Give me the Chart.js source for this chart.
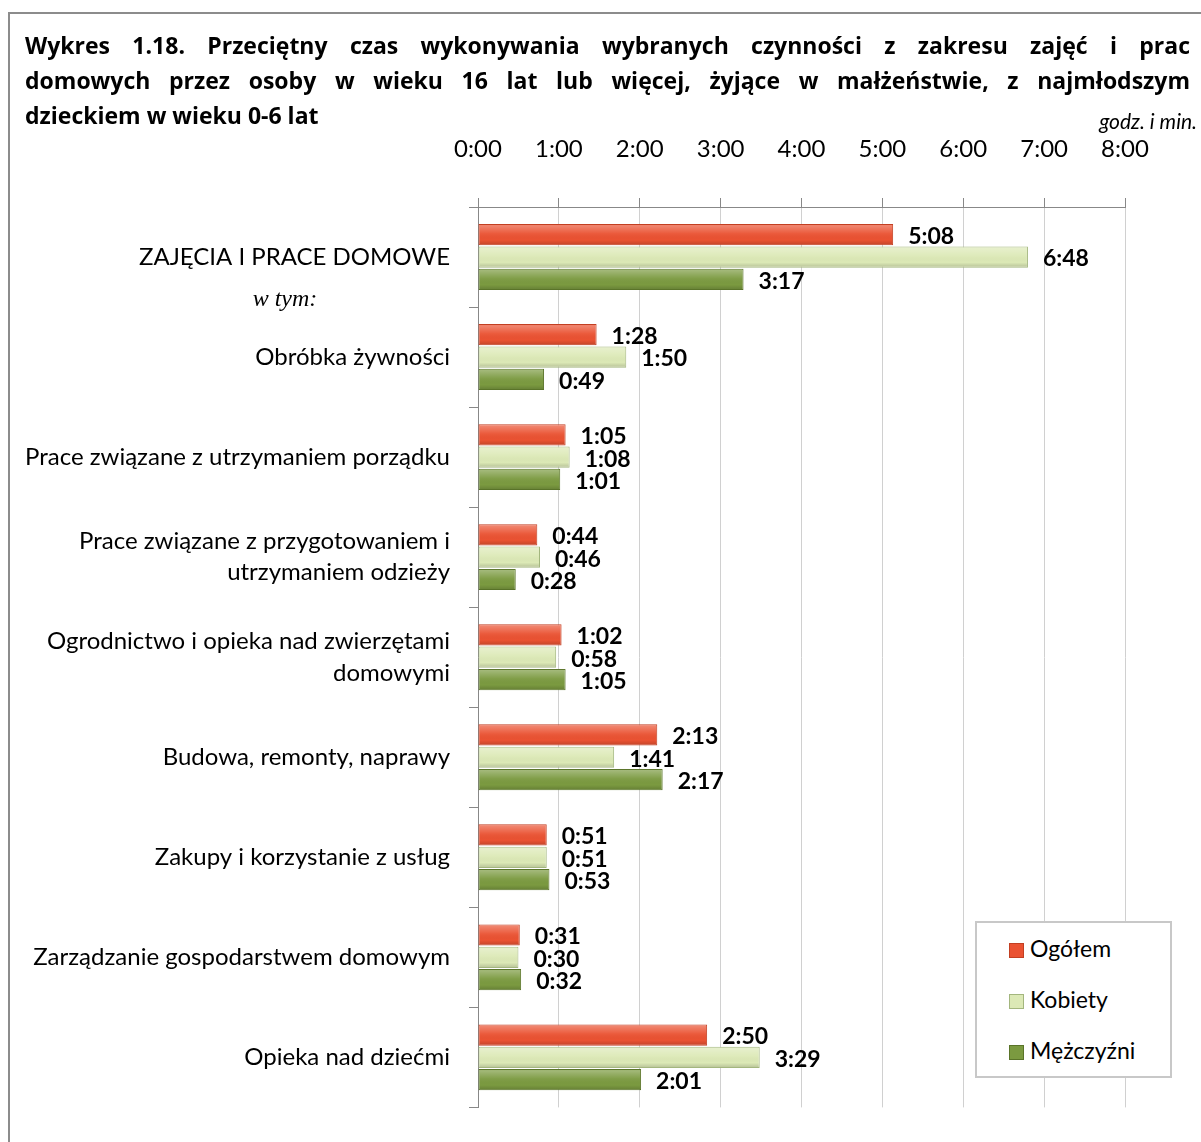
<!DOCTYPE html>
<html>
<head>
<meta charset="utf-8">
<script src="https://cdn.jsdelivr.net/npm/chart.js@4.4.1/dist/chart.umd.min.js"></script>
<style>
  html,body{margin:0;padding:0;background:#fff;}
  body{width:1201px;height:1142px;position:relative;overflow:hidden;font-family:Lato,"Noto Sans",sans-serif;}
  #frame{position:absolute;left:8px;top:12px;width:1210px;height:1200px;border:2px solid #8c8c8c;box-sizing:border-box;}
  #title{position:absolute;left:25px;top:28px;width:1165px;font-family:"Open Sans",sans-serif;font-weight:bold;font-size:23px;line-height:35px;color:#000;}
  #title .j{text-align:justify;text-align-last:justify;}
  #unit{position:absolute;right:4px;top:108px;font-style:italic;font-size:21px;color:#000;}
  #chart{position:absolute;left:0;top:0;}
  #legend{position:absolute;left:975px;top:921px;width:197px;height:157px;border:2px solid #c8c8c8;box-sizing:border-box;background:#fff;}
  #legend .item{position:absolute;left:32px;font-size:23px;line-height:26px;color:#000;}
  #legend .sw{display:inline-block;width:15px;height:15px;margin-right:6px;vertical-align:-1px;box-sizing:border-box;}
</style>
</head>
<body>
<div id="frame"></div>
<canvas id="chart" width="1201" height="1142"></canvas>
<div id="title">
  <div class="j">Wykres 1.18. Przeciętny czas wykonywania wybranych czynności z zakresu zajęć i prac</div>
  <div class="j">domowych przez osoby w wieku 16 lat lub więcej, żyjące w małżeństwie, z najmłodszym</div>
  <div>dzieckiem w wieku 0-6 lat</div>
</div>
<div id="unit">godz. i min.</div>
<div id="legend"></div>
<script>
const categories = [
  "ZAJĘCIA I PRACE DOMOWE",
  "Obróbka żywności",
  "Prace związane z utrzymaniem porządku",
  ["Prace związane z przygotowaniem i", "utrzymaniem odzieży"],
  ["Ogrodnictwo i opieka nad zwierzętami", "domowymi"],
  "Budowa, remonty, naprawy",
  "Zakupy i korzystanie z usług",
  "Zarządzanie gospodarstwem domowym",
  "Opieka nad dziećmi"
];
// minutes
const ogolem    = [308, 88, 65, 44, 62, 133, 51, 31, 170];
const kobiety   = [408, 110, 68, 46, 58, 101, 51, 30, 209];
const mezczyzni = [197, 49, 61, 28, 65, 137, 53, 32, 121];
const seriesNames = ["Ogółem", "Kobiety", "Mężczyźni"];
const tickMinutes = [0, 60, 120, 180, 240, 300, 360, 420, 480];

const fills   = ["#ea5232", "#dce9b6", "#7b9a40"];
const borders = ["#c23f22", "#a3b67e", "#5a7429"];

function hm(m){
  const h = Math.floor(m/60), mm = m%60;
  return h + ":" + String(mm).padStart(2,"0");
}

const FONT = "Lato, 'Noto Sans', sans-serif";

// legend
const leg = document.getElementById("legend");
seriesNames.forEach((n,i)=>{
  const d = document.createElement("div");
  d.className = "item";
  d.style.top = (12 + i*51) + "px";
  d.innerHTML = `<span class="sw" style="background:${fills[i]};border:1px solid ${borders[i]}"></span>${n}`;
  leg.appendChild(d);
});

const bevel = {
  id:"bevel",
  afterDatasetsDraw(chart){
    const c = chart.ctx;
    chart.data.datasets.forEach((ds,di)=>{
      chart.getDatasetMeta(di).data.forEach(bar=>{
        const top = bar.y - bar.height/2, h = bar.height;
        const g = c.createLinearGradient(0, top, 0, top+h);
        g.addColorStop(0, "rgba(255,255,255,0.35)");
        g.addColorStop(0.45, "rgba(255,255,255,0.05)");
        g.addColorStop(0.75, "rgba(0,0,0,0.0)");
        g.addColorStop(1, "rgba(0,0,0,0.18)");
        c.save();
        c.fillStyle = g;
        c.fillRect(bar.base+1, top+1, bar.x-bar.base-2, h-2);
        c.restore();
      });
    });
  }
};

const valueLabels = {
  id:"valueLabels",
  afterDatasetsDraw(chart){
    const c = chart.ctx;
    c.save();
    c.font = "bold 23px " + FONT;
    c.fillStyle = "#000";
    c.textAlign = "left";
    c.textBaseline = "middle";
    chart.data.datasets.forEach((ds,di)=>{
      chart.getDatasetMeta(di).data.forEach((bar,i)=>{
        c.fillText(hm(ds.data[i]), bar.x + 15, bar.y + 2);
      });
    });
    // "w tym:" note below first category
    const y = chart.scales.y.getPixelForValue(0) + 43;
    c.font = "italic 24px 'Liberation Serif', serif";
    c.textAlign = "center";
    c.fillText("w tym:", 285, y);
    c.restore();
  }
};

new Chart(document.getElementById("chart"), {
  type:"bar",
  data:{
    labels:categories,
    datasets:[ogolem, kobiety, mezczyzni].map((d,i)=>({
      label:seriesNames[i],
      data:d,
      backgroundColor:fills[i],
      borderColor:borders[i],
      borderWidth:1,
      borderSkipped:false,
      categoryPercentage:0.67,
      barPercentage:0.95
    }))
  },
  options:{
    indexAxis:"y",
    responsive:false,
    animation:false,
    layout:{padding:{left:0, right:76, top:120, bottom:29}},
    plugins:{legend:{display:false}, tooltip:{enabled:false}},
    scales:{
      x:{
        position:"top",
        min:0, max:480,
        afterBuildTicks(s){ s.ticks = tickMinutes.map(v=>({value:v})); },
        afterFit(s){ s.height = 87; },
        ticks:{
          callback:v=>hm(v),
          font:{size:24, family:FONT},
          color:"#000",
          padding:34,
          maxRotation:0
        },
        grid:{color:"#d0d0d0", tickColor:"#888", lineWidth:1, tickLength:9},
        border:{display:true, color:"#888", width:1}
      },
      y:{
        afterFit(s){ s.width = 478; },
        ticks:{
          font:{size:24, family:FONT, lineHeight:1.3},
          color:"#000",
          padding:19
        },
        grid:{offset:true, drawOnChartArea:false, tickLength:9, color:"#888"},
        border:{display:true, color:"#888", width:1}
      }
    }
  },
  plugins:[bevel, valueLabels]
});
</script>
</body>
</html>
